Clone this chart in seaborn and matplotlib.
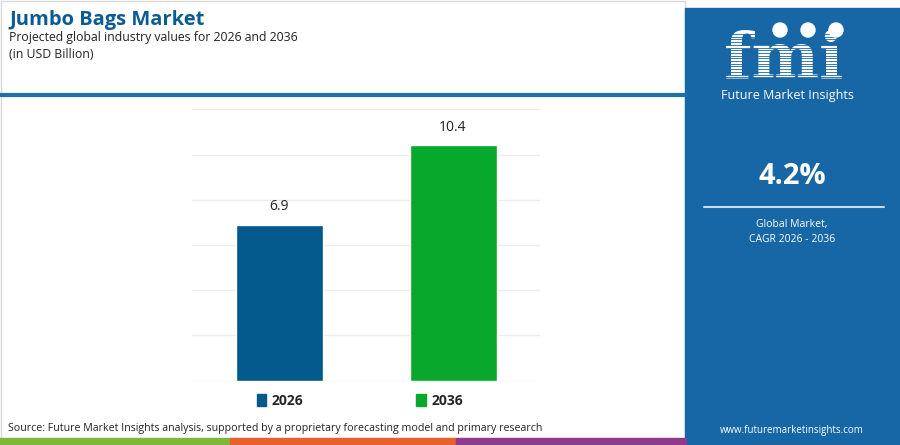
import matplotlib.pyplot as plt
import matplotlib.patches as mpatches
import pandas as pd
import seaborn as sns

# Datos del gráfico
years = ["2026", "2036"]
values = [6.9, 10.4]
bar_colors = ["#03588c", "#08a82c"]
cagr = "4.2%"

sns.set_theme(style="white")
plt.rcParams['font.family'] = ['Open Sans', 'DejaVu Sans']

df = pd.DataFrame({"year": years, "value": values})

fig = plt.figure(figsize=(9, 4.45), dpi=100)
W, H = 900, 445
panel = "#1766a6"

def fx(px):
    return px / W

def fy(py):
    return 1 - py / H

# Borde gris exterior de la zona izquierda
fig.patches.append(mpatches.Rectangle((fx(1), fy(444)), fx(684), fy(1) - fy(444),
                                      transform=fig.transFigure, fill=False,
                                      edgecolor="#d9d9d9", linewidth=1))

# Títulos
fig.text(fx(9), fy(20), "Jumbo Bags Market", fontsize=14.5, fontweight="bold",
         color="#0b5c95", va="center", ha="left")
fig.text(fx(9), fy(38), "Projected global industry values for 2026 and 2036",
         fontsize=8.8, color="#222222", va="center", ha="left")
fig.text(fx(9), fy(55), "(in USD Billion)", fontsize=8.8, color="#222222",
         va="center", ha="left")

# Línea azul superior
fig.add_artist(plt.Line2D([0, fx(686)], [fy(95), fy(95)], color="#1f6fa8",
                          linewidth=3, transform=fig.transFigure))

# Gráfico de barras
ax = fig.add_axes([fx(192), fy(380.7), fx(348), fy(109.3) - fy(380.7)])
sns.barplot(data=df, x="year", y="value", hue="year", palette=bar_colors,
            width=0.5, legend=False, ax=ax, saturation=1)
ax.set_ylim(0, 12)
ax.set_xlim(-0.5, 1.5)
ax.set_yticks(range(0, 13, 2))
ax.yaxis.grid(True, color="#ececec", linewidth=1)
ax.set_axisbelow(True)
ax.set_yticklabels([])
ax.set_xticks([])
ax.set(xlabel="", ylabel="")
ax.tick_params(left=False, bottom=False)
for s in ax.spines.values():
    s.set_visible(False)
for i, v in enumerate(values):
    ax.text(i, v + 0.45, f"{v}", ha="center", va="bottom", fontsize=10,
            color="#222222")

# Leyenda
handles = [mpatches.Patch(color=c, label=y) for c, y in zip(bar_colors, years)]
leg = fig.legend(handles=handles, loc="center", bbox_to_anchor=(fx(360), fy(401)),
                 ncol=2, frameon=False, handlelength=0.7, handleheight=0.9,
                 handletextpad=0.4, columnspacing=8.1,
                 prop={"weight": "bold", "size": 10})

# Fuente
fig.text(fx(8), fy(428), "Source: Future Market Insights analysis, supported by a "
         "proprietary forecasting model and primary research",
         fontsize=7.7, color="#222222", va="center", ha="left")

# Franja de colores inferior
for x0, x1, c in [(0, 230, "#7cb83a"), (230, 456, "#e8602c"), (456, 686, "#8e3a8e")]:
    fig.patches.append(mpatches.Rectangle((fx(x0), 0), fx(x1 - x0), fy(438),
                                          transform=fig.transFigure,
                                          color=c, zorder=5))

# Panel azul derecho
fig.patches.append(mpatches.Rectangle((fx(685), 0), fx(215), fy(8),
                                      transform=fig.transFigure,
                                      color=panel, zorder=1))
fig.text(fx(784), fy(60), "fmi", fontsize=46, fontweight="bold", color="white",
         family=["DejaVu Serif"], ha="center", va="center", zorder=6)
# rayas del logo
for k in range(19):
    yy = 34 + k * 2.7
    fig.add_artist(plt.Line2D([fx(718), fx(852)], [fy(yy), fy(yy)], color=panel,
                              linewidth=0.6, transform=fig.transFigure, zorder=7))
for cx in [780, 808, 836]:
    fig.patches.append(mpatches.Ellipse((fx(cx), fy(30)), fx(14), 14 / H,
                                        transform=fig.transFigure,
                                        color="white", zorder=8))
fig.text(fx(787), fy(96), "Future Market Insights", fontsize=9, color="white",
         ha="center", va="center", zorder=6)
fig.text(fx(792), fy(176), cagr, fontsize=21, fontweight="bold", color="white",
         ha="center", va="center", zorder=6)
fig.add_artist(plt.Line2D([fx(704), fx(884)], [fy(207), fy(207)], color="#c8dcec",
                          linewidth=1.5, transform=fig.transFigure, zorder=6))
fig.text(fx(792), fy(225), "Global Market,", fontsize=7.5, color="white",
         ha="center", va="center", zorder=6)
fig.text(fx(792), fy(239), "CAGR 2026 - 2036", fontsize=7.5, color="white",
         ha="center", va="center", zorder=6)
fig.text(fx(792), fy(430), "www.futuremarketinsights.com", fontsize=7,
         color="white", ha="center", va="center", zorder=6)

fig.savefig("out.png", dpi=100)
